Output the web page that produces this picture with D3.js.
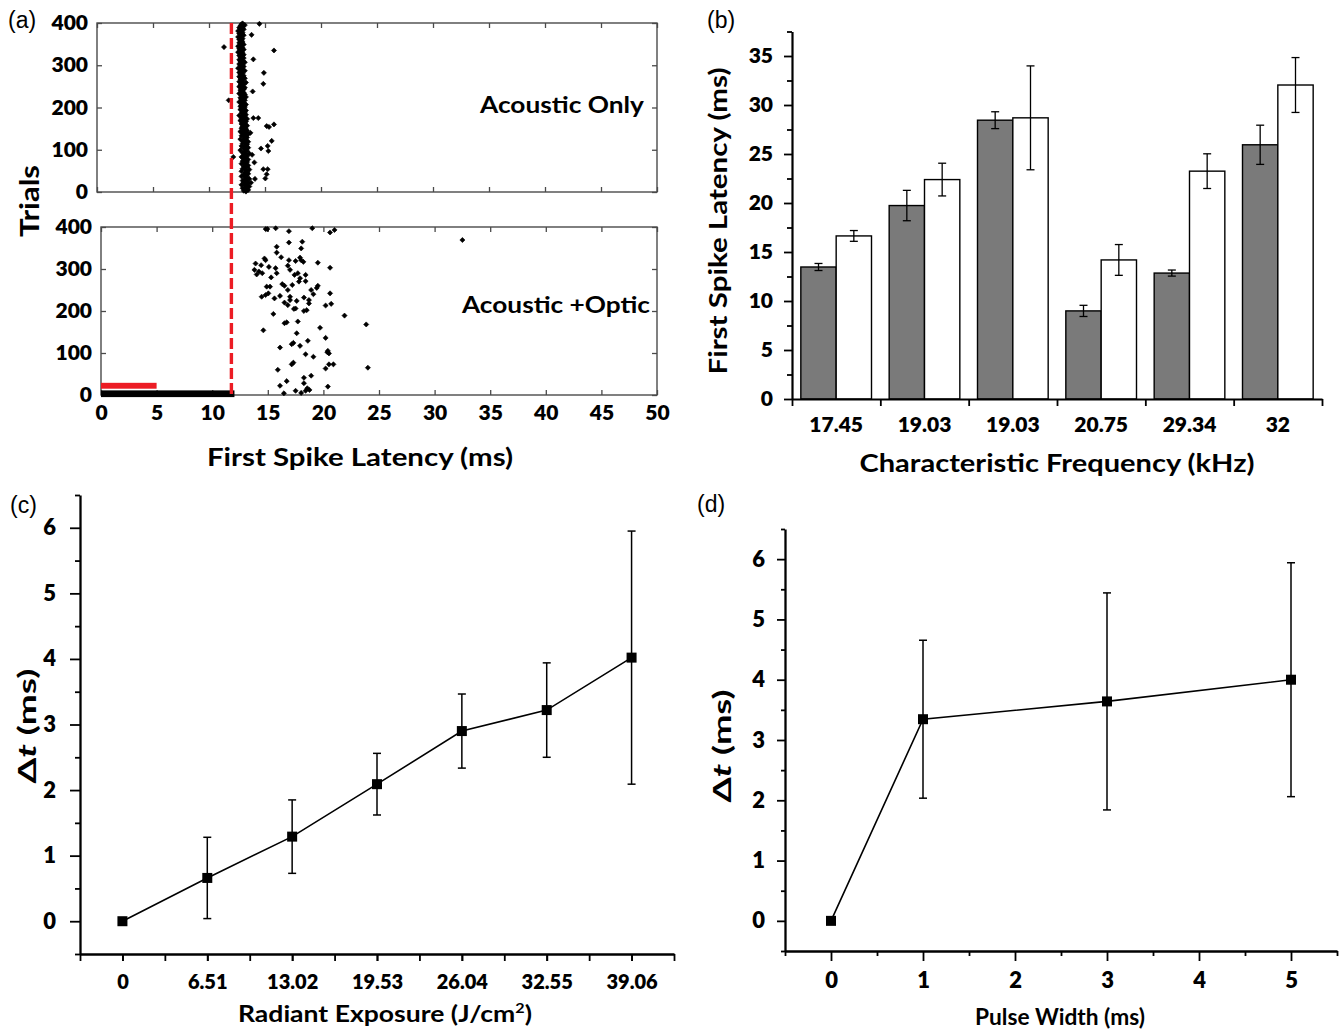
<!DOCTYPE html>
<html>
<head>
<meta charset="utf-8">
<script src="https://cdn.jsdelivr.net/npm/d3@7"></script>
<style>
  html, body { margin: 0; padding: 0; background: #fff; }
  svg { display: block; }
</style>
</head>
<body>
<svg id="fig" width="1339" height="1033"></svg>
<script>
// ---------- (a) raster of first-spike latencies ----------
const latencyTicks = [0, 5, 10, 15, 20, 25, 30, 35, 40, 45, 50];
const trialTicks = [0, 100, 200, 300, 400];
const stimulusOnset = 12;          // ms, dashed marker
const laserWindow = [0, 5];        // ms, red bar
const acousticWindow = [0, 12];    // ms, black bar
const laserRows = [15, 29];        // trial rows covered by the red bar
const acousticRows = [-5, 11];     // trial rows covered by the black bar

// acoustic-only latencies (ms), one every second trial starting at trial 1
const acousticOnlyBand = [
  13.3,13.1,13.5,13.2,13.0,13.4,13.6,13.2,12.9,13.3,13.5,13.1,13.4,13.0,13.3,13.6,13.2,13.4,12.9,13.3,
  13.1,13.5,13.2,13.4,12.9,13.3,13.6,13.0,13.2,13.4,13.1,13.5,13.3,12.9,13.2,13.4,13.0,13.3,13.5,13.1,
  13.2,12.9,13.4,13.1,13.3,13.6,13.0,13.2,13.4,12.8,13.3,13.1,13.5,13.2,12.9,13.3,13.4,13.0,13.2,13.5,
  13.0,13.3,12.8,13.2,13.4,13.1,12.9,13.3,13.5,13.0,13.2,12.8,13.4,13.1,13.3,12.9,13.2,13.0,13.4,13.1,
  12.9,13.2,13.0,13.3,12.8,13.1,13.4,12.9,13.2,13.0,12.7,13.3,13.1,12.9,13.2,13.0,13.3,12.8,13.1,12.9,
  13.2,12.8,13.0,13.3,12.9,13.1,12.7,13.0,13.2,12.9,13.1,12.8,13.3,13.0,12.9,13.2,12.7,13.1,12.9,13.0,
  12.8,13.1,12.9,13.2,12.7,13.0,12.8,13.1,12.9,13.3,12.7,13.0,12.9,12.8,13.2,13.0,12.7,13.1,12.9,12.8,
  13.0,12.7,12.9,13.2,12.8,13.0,12.6,12.9,13.1,12.8,13.0,12.7,12.9,13.2,12.8,13.0,12.7,12.9,13.1,12.8,
  12.9,12.7,13.1,12.8,13.0,12.6,12.9,12.8,13.1,12.7,13.0,12.9,12.6,12.8,13.1,12.9,12.7,13.0,12.8,12.9,
  12.7,13.0,12.8,12.6,12.9,13.1,12.8,12.7,13.0,12.9,12.6,12.8,13.1,12.9,12.7,13.0,12.8,13.2,12.9,13.0
];
// scattered acoustic-only spikes: [latency ms, trial]
const acousticOnlyOutliers = [
  [11.34,343],[14.5,398],[15.8,335],[13.96,314],[14.9,282],[14.85,256],[11.76,217],
  [13.96,175],[14.4,175],[15.15,156],[15.36,154],[15.8,160],[15.6,121],[14.64,103],
  [15.24,109],[15.3,97],[12.17,83],[14.05,70],[14.85,54],[15.24,54],[15.15,42],[15.03,32],[14.1,31],
  [13.8,372],[13.9,238],[13.7,140],[13.85,88],[13.75,22]
];
// acoustic + optic spikes: [latency ms, trial]
const acousticOpticSpikes = [
  [14.81,395],[14.96,395],[15.71,397],[16.9,390],[19.0,397],[20.6,387],[21.0,393],
  [16.9,363],[18.1,365],[15.8,353],[18.0,349],[15.8,339],[16.2,328],
  [14.7,325],[14.8,321],[16.9,321],[17.9,327],[18.0,321],[18.2,317],[17.5,319],[19.5,315],
  [13.9,313],[14.4,309],[20.6,303],[13.8,298],[14.2,294],[14.5,290],[14.0,287],
  [15.1,305],[15.7,302],[16.8,308],[17.0,298],[15.3,280],[15.8,290],
  [17.4,286],[17.7,290],[17.9,278],[17.8,270],[18.4,286],[18.4,271],
  [16.3,264],[16.5,260],[17.2,262],[14.9,258],[15.2,258],[16.8,250],
  [18.9,250],[19.1,240],[19.4,255],[19.5,260],
  [14.45,234],[14.8,238],[15.05,242],[15.6,230],[16.1,236],[17.0,234],[17.0,226],
  [16.5,220],[16.8,214],[18.25,232],[18.7,226],[18.7,218],[17.6,224],
  [20.6,242],[20.7,217],[20.2,213],[17.35,205],[17.5,206],[18.25,200],[18.5,202],
  [15.5,193],[21.9,189],[16.5,171],[16.7,173],[17.7,175],[14.6,154],[19.7,160],[23.85,168],
  [17.6,147],[20.2,136],[18.6,129],[17.15,121],[17.3,124],[16.1,113],[17.9,117],
  [20.4,105],[20.5,99],[20.35,102],[18.4,97],[19.1,91],[17.15,73],[17.3,77],
  [20.2,63],[20.5,73],[20.9,73],[24.0,65],[15.9,60],[18.9,46],[18.25,41],
  [16.7,33],[16.1,22],[18.25,28],[18.55,16],[18.75,12],[18.4,10],[20.4,20],[17.5,10],[18.0,5],[16.45,4],
  [32.5,369]
];

// ---------- (b) latency per characteristic frequency ----------
const cfLabels = ["17.45", "19.03", "19.03", "20.75", "29.34", "32"];
const latencyAcoustic = [13.47, 19.74, 28.45, 8.99, 12.85, 25.94];
const errAcoustic     = [0.36, 1.55, 0.86, 0.57, 0.31, 2.0];
const latencyCombined = [16.64, 22.39, 28.69, 14.19, 23.25, 32.04];
const errCombined     = [0.55, 1.67, 5.3, 1.57, 1.77, 2.8];

// ---------- (c) latency shift vs radiant exposure ----------
const radiantExposure = [0, 6.51, 13.02, 19.53, 26.04, 32.55, 39.06];
const dtExposure      = [0, 0.66, 1.29, 2.09, 2.90, 3.22, 4.02];
const dtExposureErr   = [0, 0.62, 0.56, 0.47, 0.565, 0.72, 1.93];

// ---------- (d) latency shift vs pulse width ----------
const pulseWidth   = [0, 1, 3, 5];
const dtPulse      = [0, 3.345, 3.64, 4.0];
const dtPulseErr   = [0, 1.31, 1.8, 1.94];
const pulseTicks   = [0, 1, 2, 3, 4, 5];

const FONT = "Lato, 'Open Sans', 'DejaVu Sans', sans-serif";
const PANEL_FONT = "'Liberation Sans', Arial, sans-serif";
const svg = d3.select("#fig");

function styleAxis(g, size) {
  g.attr("font-family", FONT).attr("font-size", size).attr("font-weight", 800);
  g.selectAll("text").attr("fill", "#000");
  return g;
}
function label(x, y, s, o = {}) {
  const t = svg.append("text")
    .attr("x", x).attr("y", y)
    .attr("font-family", o.family || FONT)
    .attr("font-size", o.size || 24)
    .attr("font-weight", o.weight == null ? 700 : o.weight)
    .attr("text-anchor", o.anchor || "middle")
    .attr("fill", "#000");
  if (o.rotate) t.attr("transform", `rotate(-90,${x},${y})`);
  if (o.len) t.attr("textLength", o.len).attr("lengthAdjust", "spacingAndGlyphs");
  if (s != null) t.text(s);
  return t;
}

// ================= panel (a) =================
const axTop = d3.scaleLinear().domain([0, 50]).range([97, 657]);
const ayTop = d3.scaleLinear().domain([0, 400]).range([192, 23]);
const axBot = d3.scaleLinear().domain([0, 50]).range([101, 657]);
const ayBot = d3.scaleLinear().domain([0, 400]).range([395, 227]);
const boxStroke = "#4a4a4a";

[[axTop, ayTop, false], [axBot, ayBot, true]].forEach(([xs, ys, withX]) => {
  const [x0, x1] = xs.range();
  const [yb, yt] = ys.range();
  const g = svg.append("g");
  g.append("g").attr("transform", `translate(${x0},0)`)
    .call(d3.axisLeft(ys).tickValues(trialTicks).tickSize(-5).tickPadding(9).tickSizeOuter(0))
    .call(a => styleAxis(a, 21));
  g.append("g").attr("transform", `translate(${x1},0)`)
    .call(d3.axisRight(ys).tickValues(trialTicks).tickSize(-5).tickFormat("").tickSizeOuter(0));
  g.append("g").attr("transform", `translate(0,${yt})`)
    .call(d3.axisTop(xs).tickValues(latencyTicks).tickSize(-5).tickFormat("").tickSizeOuter(0));
  g.append("g").attr("transform", `translate(0,${yb})`)
    .call(d3.axisBottom(xs).tickValues(latencyTicks).tickSize(-5).tickPadding(10).tickSizeOuter(0)
      .tickFormat(withX ? d3.format("d") : ""))
    .call(a => styleAxis(a, 21));
  g.selectAll(".domain").remove();
  g.selectAll(".tick line").attr("stroke", boxStroke).attr("stroke-width", 1.3);
  g.append("rect").attr("x", x0).attr("y", yt).attr("width", x1 - x0).attr("height", yb - yt)
    .attr("fill", "none").attr("stroke", boxStroke).attr("stroke-width", 1.4);
});

const spikeMark = d3.symbol(d3.symbolSquare, 13);
const topSpikes = acousticOnlyBand.map((v, i) => [v, 1 + 2 * i]).concat(acousticOnlyOutliers);
svg.append("g").selectAll("path").data(topSpikes).join("path")
  .attr("d", spikeMark)
  .attr("transform", d => `translate(${axTop(d[0])},${ayTop(d[1])}) rotate(45)`)
  .attr("fill", "#000").attr("stroke", "#000").attr("stroke-width", 0.6);
svg.append("g").selectAll("path").data(acousticOpticSpikes).join("path")
  .attr("d", spikeMark)
  .attr("transform", d => `translate(${axBot(d[0])},${ayBot(d[1])}) rotate(45)`)
  .attr("fill", "#000").attr("stroke", "#000").attr("stroke-width", 0.6);

// stimulus bars
svg.append("rect")
  .attr("x", axBot(laserWindow[0])).attr("y", ayBot(laserRows[1]))
  .attr("width", axBot(laserWindow[1]) - axBot(laserWindow[0]))
  .attr("height", ayBot(laserRows[0]) - ayBot(laserRows[1]))
  .attr("fill", "#ec1c24");
svg.append("rect")
  .attr("x", axBot(acousticWindow[0])).attr("y", ayBot(acousticRows[1]))
  .attr("width", axBot(acousticWindow[1]) - axBot(acousticWindow[0]))
  .attr("height", ayBot(acousticRows[0]) - ayBot(acousticRows[1]))
  .attr("fill", "#000");

// stimulus onset
svg.append("line")
  .attr("x1", axTop(stimulusOnset)).attr("x2", axTop(stimulusOnset))
  .attr("y1", ayTop(400)).attr("y2", ayBot(0) + 1)
  .attr("stroke", "#ec1c24").attr("stroke-width", 3.4).attr("stroke-dasharray", "11,4");

label(644, 113, "Acoustic Only", { size: 23, anchor: "end", len: 164 });
label(650, 313, "Acoustic +Optic", { size: 23, anchor: "end", len: 188 });
label(360, 466, "First Spike Latency (ms)", { size: 25, len: 306 });
label(39, 201, "Trials", { size: 27, rotate: true, len: 72 });
label(8, 28, "(a)", { family: PANEL_FONT, size: 23, weight: 400, anchor: "start" });

// ================= panel (b) =================
const by = d3.scaleLinear().domain([0, 37.5]).range([399, 31.5]);
const bEdge = d3.scaleLinear().domain([0, 6]).range([792, 1322]);
const bCat = d3.scaleBand().domain(d3.range(cfLabels.length)).range([792, 1322])
  .paddingInner(0.2).paddingOuter(0.1);
const bSub = d3.scaleBand().domain([0, 1]).range([0, bCat.bandwidth()]);

const bRows = cfLabels.map((c, i) => ({ i, vals: [
  { k: 0, v: latencyAcoustic[i], e: errAcoustic[i] },
  { k: 1, v: latencyCombined[i], e: errCombined[i] }
]}));
const bGroups = svg.append("g").selectAll("g").data(bRows).join("g")
  .attr("transform", d => `translate(${bCat(d.i)},0)`);
bGroups.selectAll("rect").data(d => d.vals).join("rect")
  .attr("x", d => bSub(d.k)).attr("width", bSub.bandwidth())
  .attr("y", d => by(d.v)).attr("height", d => by(0) - by(d.v))
  .attr("fill", d => d.k === 0 ? "#7a7a7a" : "#fff")
  .attr("stroke", "#000").attr("stroke-width", 1.4);
const bErr = bGroups.selectAll("g.err").data(d => d.vals).join("g").attr("class", "err")
  .attr("stroke", "#000").attr("stroke-width", 1.3);
bErr.append("line")
  .attr("x1", d => bSub(d.k) + bSub.bandwidth() / 2).attr("x2", d => bSub(d.k) + bSub.bandwidth() / 2)
  .attr("y1", d => by(d.v - d.e)).attr("y2", d => by(d.v + d.e));
[-1, 1].forEach(s => bErr.append("line")
  .attr("x1", d => bSub(d.k) + bSub.bandwidth() / 2 - 4).attr("x2", d => bSub(d.k) + bSub.bandwidth() / 2 + 4)
  .attr("y1", d => by(d.v + s * d.e)).attr("y2", d => by(d.v + s * d.e)));

// axes of (b)
const byAxis = svg.append("g").attr("transform", `translate(${bEdge(0)},0)`)
  .call(d3.axisLeft(by).tickValues(d3.range(0, 37.51, 2.5)).tickSize(8).tickPadding(11).tickSizeOuter(0)
    .tickFormat(d => d % 5 === 0 ? d : ""))
  .call(a => styleAxis(a, 21));
byAxis.selectAll(".tick").filter(d => d % 5 !== 0).select("line").attr("x2", -5);
byAxis.select(".domain").attr("stroke-width", 2.2);
byAxis.selectAll(".tick line").attr("stroke-width", 1.8);
const bxAxis = svg.append("g").attr("transform", `translate(0,${by(0)})`)
  .call(d3.axisBottom(bEdge).ticks(6).tickSize(7).tickFormat("").tickSizeOuter(0));
bxAxis.select(".domain").attr("stroke-width", 2.2);
bxAxis.selectAll(".tick line").attr("stroke-width", 1.8);
svg.append("g").attr("transform", `translate(0,${by(0)})`)
  .call(d3.axisBottom(bCat).tickSize(0).tickPadding(18).tickFormat(i => cfLabels[i]))
  .call(a => styleAxis(a, 21))
  .call(a => a.select(".domain").remove());

label(1057, 472, "Characteristic Frequency (kHz)", { size: 25, len: 395 });
label(727, 221, "First Spike Latency (ms)", { size: 25, rotate: true, len: 307 });
label(707, 28, "(b)", { family: PANEL_FONT, size: 23, weight: 400, anchor: "start" });

// ================= shared drawing for (c) and (d) =================
function lineChart(xs, ys, xVals, yVals, eVals) {
  const pts = xVals.map((x, i) => ({ x, y: yVals[i], e: eVals[i] }));
  const g = svg.append("g");
  g.append("path").datum(pts)
    .attr("d", d3.line().x(d => xs(d.x)).y(d => ys(d.y)))
    .attr("fill", "none").attr("stroke", "#000").attr("stroke-width", 1.6);
  const eg = g.selectAll("g.err").data(pts.filter(d => d.e > 0)).join("g").attr("class", "err")
    .attr("stroke", "#000").attr("stroke-width", 1.5);
  eg.append("line").attr("x1", d => xs(d.x)).attr("x2", d => xs(d.x))
    .attr("y1", d => ys(d.y - d.e)).attr("y2", d => ys(d.y + d.e));
  [-1, 1].forEach(s => eg.append("line")
    .attr("x1", d => xs(d.x) - 4).attr("x2", d => xs(d.x) + 4)
    .attr("y1", d => ys(d.y + s * d.e)).attr("y2", d => ys(d.y + s * d.e)));
  g.selectAll("rect").data(pts).join("rect")
    .attr("x", d => xs(d.x) - 5).attr("y", d => ys(d.y) - 5)
    .attr("width", 10).attr("height", 10).attr("fill", "#000");
}
function yAxisDt(xs, ys, major, minor, pad) {
  const g = svg.append("g").attr("transform", `translate(${xs.range()[0]},0)`)
    .call(d3.axisLeft(ys).tickValues(d3.range(-0.5, 6.51, 0.5)).tickSize(major).tickPadding(pad).tickSizeOuter(0)
      .tickFormat(d => Number.isInteger(d) && d >= 0 ? d : ""))
    .call(a => styleAxis(a, 22));
  g.selectAll(".tick").filter(d => !Number.isInteger(d)).select("line").attr("x2", -minor);
  g.select(".domain").attr("stroke-width", 2.3);
  g.selectAll(".tick line").attr("stroke-width", 1.8);
}

// ================= panel (c) =================
const cx = d3.scaleLinear().domain([-3.255, 42.315]).range([80, 674]);
const cy = d3.scaleLinear().domain([-0.5, 6.5]).range([954, 495]);
yAxisDt(cx, cy, 10, 5, 14);
const cMinor = d3.range(-1, 14).map(k => k * 3.255);
const cxAxis = svg.append("g").attr("transform", `translate(0,${cy(-0.5)})`)
  .call(d3.axisBottom(cx).tickValues(cMinor).tickSize(7).tickFormat("").tickSizeOuter(0));
cxAxis.select(".domain").attr("stroke-width", 2.3);
cxAxis.selectAll(".tick line").attr("stroke-width", 1.8);
svg.append("g").attr("transform", `translate(0,${cy(-0.5)})`)
  .call(d3.axisBottom(cx).tickValues(radiantExposure).tickSize(7).tickPadding(14)
    .tickFormat(d => d === 0 ? "0" : d.toFixed(2)))
  .call(a => styleAxis(a, 20))
  .call(a => { a.select(".domain").remove(); a.selectAll(".tick line").attr("stroke-width", 1.8); });
lineChart(cx, cy, radiantExposure, dtExposure, dtExposureErr);

const cxt = label(385, 1022, null, { size: 23, len: 294 });
cxt.append("tspan").text("Radiant Exposure (J/cm");
cxt.append("tspan").attr("font-size", 14).attr("dy", -9).text("2");
cxt.append("tspan").attr("dy", 9).text(")");
const cyt = label(36, 726, null, { size: 25, rotate: true, len: 115 });
cyt.append("tspan").text("Δ");
cyt.append("tspan").attr("font-style", "italic").text("t");
cyt.append("tspan").text(" (ms)");
label(10, 513, "(c)", { family: PANEL_FONT, size: 23, weight: 400, anchor: "start" });

// ================= panel (d) =================
const dxs = d3.scaleLinear().domain([-0.5, 5.5]).range([785, 1337]);
const dys = d3.scaleLinear().domain([-0.5, 6.5]).range([951, 529]);
yAxisDt(dxs, dys, 8, 4, 12);
const dxAxis = svg.append("g").attr("transform", `translate(0,${dys(-0.5)})`)
  .call(d3.axisBottom(dxs).tickValues(d3.range(-0.5, 5.51, 0.5)).tickSize(10).tickPadding(11).tickSizeOuter(0)
    .tickFormat(d => pulseTicks.includes(d) ? d : ""))
  .call(a => styleAxis(a, 22));
dxAxis.selectAll(".tick").filter(d => !Number.isInteger(d)).select("line").attr("y2", 5);
dxAxis.select(".domain").attr("stroke-width", 2.3);
dxAxis.selectAll(".tick line").attr("stroke-width", 1.8);
lineChart(dxs, dys, pulseWidth, dtPulse, dtPulseErr);

label(1060, 1025, "Pulse Width (ms)", { size: 23, len: 170 });
const dyt = label(731, 746, null, { size: 25, rotate: true, len: 113 });
dyt.append("tspan").text("Δ");
dyt.append("tspan").attr("font-style", "italic").text("t");
dyt.append("tspan").text(" (ms)");
label(697, 512, "(d)", { family: PANEL_FONT, size: 23, weight: 400, anchor: "start" });
</script>
</body>
</html>
